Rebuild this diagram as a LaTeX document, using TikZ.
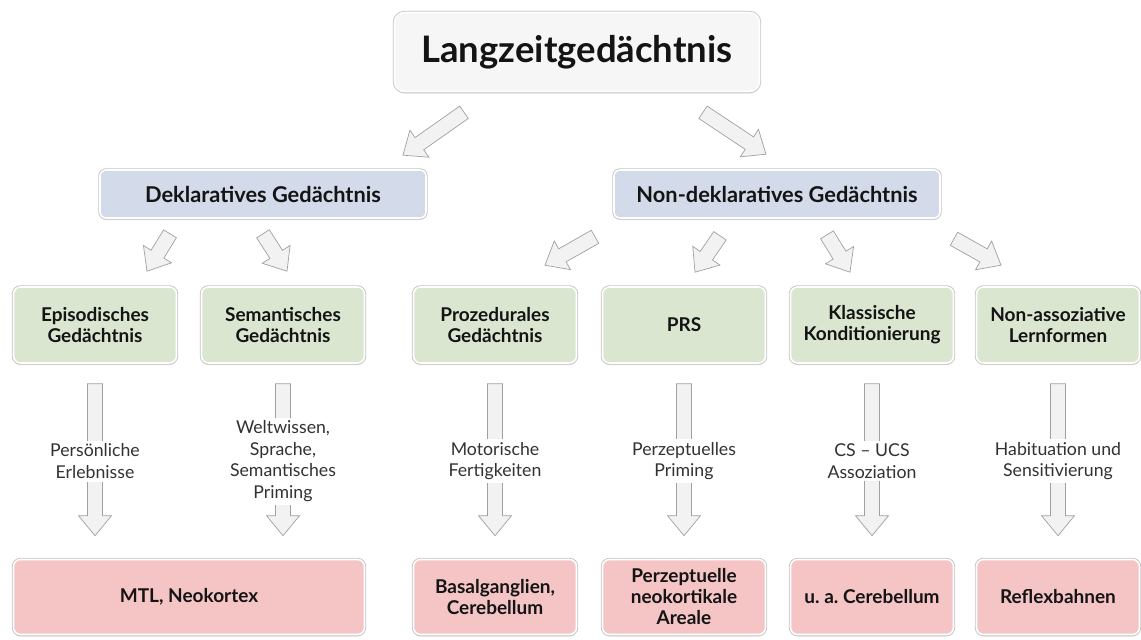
\documentclass[tikz,border=0pt]{standalone}
\usepackage{fontspec}
\setmainfont{Lato}
\frenchspacing
\usetikzlibrary{calc,shadows,positioning}
\definecolor{TopFill}{RGB}{246,246,246}
\definecolor{DekFill}{RGB}{211,218,233}
\definecolor{GrnFill}{RGB}{218,230,208}
\definecolor{RedFill}{RGB}{245,196,197}
\definecolor{EdgeGray}{RGB}{196,196,196}
\definecolor{ArrFill}{RGB}{242,242,242}
\definecolor{ArrLine}{RGB}{160,160,160}
\definecolor{Ink}{RGB}{20,20,20}
\definecolor{LabelInk}{RGB}{50,50,50}

\begin{document}
\begin{tikzpicture}[x=1pt,y=-1pt,
          bx/.style={rounded corners=7pt,draw=white,line width=1.6pt,align=center,text=Ink,
                     drop shadow={shadow xshift=0pt,shadow yshift=-2pt,opacity=.25},
                     preaction={draw=EdgeGray,line width=3.4pt},inner sep=0pt,
                     font=\fontsize{19}{21}\selectfont\bfseries},
          hd/.style={bx,fill=TopFill,minimum width=365pt,minimum height=79pt,rounded corners=10pt,
                     font=\fontsize{36.5}{44}\selectfont\bfseries},
          md/.style={bx,fill=DekFill,minimum width=326pt,minimum height=48pt,rounded corners=6pt,
                     font=\fontsize{21.8}{26}\selectfont\bfseries},
          gn/.style={bx,fill=GrnFill,minimum width=163pt,minimum height=76pt},
          rd/.style={bx,fill=RedFill,minimum width=163pt,minimum height=75pt},
          lbl/.style={fill=white,text=LabelInk,align=center,inner sep=3pt,
                     font=\fontsize{17.7}{21.5}\selectfont},
          blk/.style={draw=ArrLine,fill=ArrFill,line width=0.7pt,
                     to path={let \p1=(\tikztostart),\p2=(\tikztotarget),
                       \n1={atan2(\y2-\y1,\x2-\x1)},\n2={veclen(\x2-\x1,\y2-\y1)-20}
                       in ($(\p1)+(\n1+90:7.5pt)$) -- ($(\p1)+(\n1:\n2)+(\n1+90:7.5pt)$)
                       -- ($(\p1)+(\n1:\n2)+(\n1+90:16.5pt)$) -- (\p2)
                       -- ($(\p1)+(\n1:\n2)+(\n1-90:16.5pt)$) -- ($(\p1)+(\n1:\n2)+(\n1-90:7.5pt)$)
                       -- ($(\p1)+(\n1-90:7.5pt)$) -- cycle}}
        ]
          \useasboundingbox (0,0) rectangle (1141,640);

          \node(top)[hd] at (577,52) {Langzeitgedächtnis};
          \node(dk)[md] at (263,194) {Deklaratives Gedächtnis};
          \node(nd)[md] at (777,194) {Non-deklaratives Gedächtnis};

          % memory systems
          \node(ep)[gn] at (95,325) {Episodisches\\Gedächtnis};
          \node(se)[gn] at (283,325) {Semantisches\\Gedächtnis};
          \node(pr)[gn] at (495,325) {Prozedurales\\Gedächtnis};
          \node(ps)[gn] at (684,325) {PRS};
          \node(kk)[gn] at (872,325) {Klassische\\Konditionierung};
          \node(na)[gn] at (1058,325) {Non-assoziative\\Lernformen};

          % brain structures
          \node(mtl)[rd,minimum width=351pt] at (189,597) {MTL, Neokortex};
          \node(bg)[rd] at (495,597) {Basalganglien,\\Cerebellum};
          \node(pn)[rd] at (684,597) {Perzeptuelle\\neokortikale\\Areale};
          \node(cb)[rd] at (872,597) {u. a. Cerebellum};
          \node(rb)[rd] at (1058,597) {Reflexbahnen};

          \draw[blk] ($(top.south)+(-113,20)$) to ($(dk.north)+(140,-14)$);
          \draw[blk] ($(top.south)+(126,20)$) to ($(nd.north)+(-11,-15)$);
          \draw[blk] ($(dk.south)+(-93,15)$) to ($(ep.north)+(52,-15)$);
          \draw[blk] ($(dk.south)+(0,15)$) to ($(se.north)+(4,-15)$);
          \draw[blk] ($(nd.south)+(-182,18)$) to ($(pr.north)+(50,-21)$);
          \draw[blk] ($(nd.south)+(-57,17)$) to ($(ps.north)+(11,-14)$);
          \draw[blk] ($(nd.south)+(50,16)$) to ($(kk.north)+(-22,-14)$);
          \draw[blk] ($(nd.south)+(177,20)$) to ($(na.north)+(-57,-21)$);

          \foreach \g/\b/\t in {ep/mtl/{Persönliche\\Erlebnisse},
                                se/mtl/{Weltwissen,\\Sprache,\\Semantisches\\Priming},
                                pr/bg/{Motorische\\Fertigkeiten},
                                ps/pn/{Perzeptuelles\\Priming},
                                kk/cb/{CS – UCS\\Assoziation},
                                na/rb/{Habituation und\\Sensitivierung}}{
            \draw[blk] ([yshift=-20pt]\g.south) to ([yshift=23pt]\g.south |- \b.north);
            \node(l\g)[lbl] at ($(\g.south)!.5!(\g.south |- \b.north)$) {\t};
          }
        \end{tikzpicture}
\end{document}
